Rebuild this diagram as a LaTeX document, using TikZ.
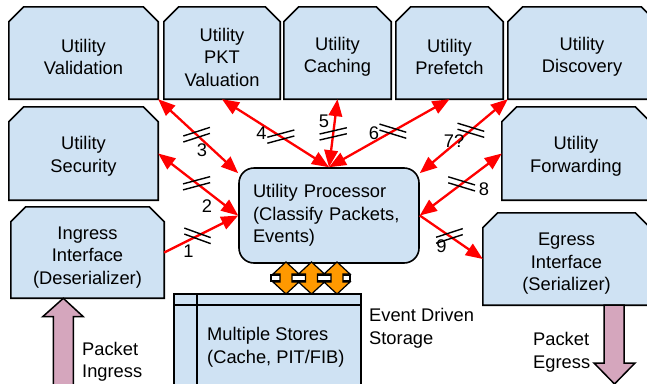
\documentclass[tikz,border=0pt]{standalone}
\usepackage{fontspec}
\setmainfont{Liberation Sans}
\usetikzlibrary{arrows.meta,calc}
\pgfdeclarelayer{background}
\pgfsetlayers{background,main}
\definecolor{boxblue}{HTML}{CFE2F3}
\definecolor{linkred}{HTML}{FF0000}
\definecolor{busorange}{HTML}{FF9900}
\definecolor{flowpink}{HTML}{D5A6BD}

\tikzset{
  area/.style 2 args={rectangle, inner sep=0pt, minimum width=#1, minimum height=#2},
  boxtext/.style={align=center, inner sep=0pt},
  plaintext/.style={align=left, inner sep=0pt, anchor=west},
  numtext/.style={inner sep=0pt},
  boxline/.style={draw=black, fill=boxblue, line width=1.6pt, line join=miter},
  redlink/.style={draw=linkred, line width=2.3pt},
  tickline/.style={draw=black, line width=1.4pt},
  flow/.style={draw=black, fill=flowpink, line width=1.5pt, line join=miter},
  bus/.style={draw=black, fill=busorange, line width=1.2pt, line join=miter},
  busbar/.style={draw=black, fill=white, line width=1.2pt},
  >={Triangle[length=17pt,width=13.5pt]}
}

% box with its two upper corners cut off
\newcommand\chambox[1]{%
  \filldraw[boxline] (#1.south west) -- ([yshift=-15pt]#1.north west)
    -- ([xshift=15pt]#1.north west) -- ([xshift=-15pt]#1.north east)
    -- ([yshift=-15pt]#1.north east) -- (#1.south east) -- cycle;}

% double stroke across a link
\newcommand\brk[2]{%
  \foreach \o in {-3,3}{%
    \draw[tickline] ($(#1)+(0,\o)$) ++(#2+180:14pt) -- ++(#2:28pt);}}

% up/down arrow between processor and stores
\newcommand\busarrow[1]{%
  \filldraw[bus] (#1,262) -- (#1+13,274) -- (#1+6,274) -- (#1+6,282)
    -- (#1+13,282) -- (#1,294) -- (#1-13,282) -- (#1-6,282)
    -- (#1-6,274) -- (#1-13,274) -- cycle;}

\begin{document}
\begin{tikzpicture}[x=1pt, y=-1pt, font=\fontsize{18.3}{22.5}\selectfont]
\useasboundingbox (0,0) rectangle (647,383);
\clip (0,0) rectangle (647,383);

% utility modules
\node[area={149pt}{92pt}] (val)  at (83.5,53)  {};
\node[area={116pt}{92pt}] (pkt)  at (222,53)   {};
\node[area={107pt}{92pt}] (cach) at (337.5,53) {};
\node[area={107pt}{92pt}] (pref) at (449.5,53) {};
\node[area={148pt}{92pt}] (disc) at (582,53)   {};
\node[area={149pt}{93pt}] (sec)  at (83.5,153.5) {};
\node[area={148pt}{93pt}] (fwd)  at (576,153.5)  {};
\node[area={153pt}{91pt}] (ing)  at (87.5,252.5) {};
\node[area={167pt}{92pt}] (egr)  at (566.5,259)  {};
\node[area={187pt}{106pt}] (store) at (267.5,347) {};

\node[boxtext] (valt)  at ([yshift=-4pt]val.center)  {Utility\\Validation};
\node[boxtext] (pktt)  at ([yshift=-4pt]pkt.center)  {Utility\\PKT\\Valuation};
\node[boxtext] (cacht) at ([yshift=-4pt]cach.center) {Utility\\Caching};
\node[boxtext] (preft) at ([yshift=-4pt]pref.center) {Utility\\Prefetch};
\node[boxtext] (disct) at ([yshift=-4pt]disc.center) {Utility\\Discovery};
\node[boxtext] (sect)  at ([yshift=-3pt]sec.center)  {Utility\\Security};
\node[boxtext] (fwdt)  at ([yshift=-3pt]fwd.center)  {Utility\\Forwarding};
\node[boxtext] (ingt)  at ([yshift=-5pt]ing.center)  {Ingress\\Interface\\(Deserializer)};
\node[boxtext] (egrt)  at ([yshift=-5pt]egr.center)  {Egress\\Interface\\(Serializer)};

\begin{pgfonlayer}{background}
  \foreach \b in {val,pkt,cach,pref,disc,sec,fwd,ing,egr}{\chambox{\b}}
  \filldraw[boxline] (store.north west) rectangle (store.south east);
  \draw[boxline, fill=none] ([yshift=-11pt]store.north west) -- ([yshift=-11pt]store.north east);
  \draw[boxline, fill=none] ([xshift=23pt]store.north west) -- ([xshift=23pt]store.south west);
\end{pgfonlayer}

\node[plaintext] (storet) at (207,347.5) {Multiple Stores\\(Cache, PIT/FIB)};

% central processor
\node[area={180pt}{95pt}, rounded corners=15pt, boxline, align=left, text width=152pt]
  (proc) at (329,215.5) {Utility Processor\\(Classify Packets,\\Events)};

% memory bus
\filldraw[busbar] (271,275) rectangle (350,281);
\foreach \c in {286,311.5,337}{\busarrow{\c}}

% packet flow in and out
\filldraw[flow] (63.3,298.3) -- (83.3,316.7) -- (73.3,316.7) -- (73.3,392)
  -- (53.3,392) -- (53.3,316.7) -- (42.7,316.7) -- cycle;
\filldraw[flow] (604,305) -- (604,363) -- (594,363) -- (614.5,384)
  -- (635,363) -- (624,363) -- (624,305) -- cycle;

% links to the processor
\draw[redlink,->]  (ing.east) -- coordinate[pos=.45] (t1) (proc.west);
\draw[redlink,<->] (sec.east) -- coordinate[pos=.48] (t2) (proc.west);
\draw[redlink,<->] (val.south east) -- coordinate[pos=.48] (t3) (proc.155);
\draw[redlink,<->] (pkt.south) -- coordinate[pos=.55] (t4) (proc.north);
\draw[redlink,<->] (cach.south) -- coordinate[pos=.51] (t5) (proc.north);
\draw[redlink,<->] (pref.south) -- coordinate[pos=.47] (t6) (proc.north);
\draw[redlink,<->] (disc.south west) -- coordinate[pos=.42] (t7) (proc.25);
\draw[redlink,<->] (fwd.west) -- coordinate[pos=.49] (t8) (proc.east);
\draw[redlink,->]  (proc.east) -- coordinate[pos=.47] (t9) (egr.west);

\brk{t1}{-20}
\brk{t2}{15}
\brk{t3}{18}
\brk{t4}{15}
\brk{t5}{13}
\brk{t6}{-17}
\brk{t7}{-17}
\brk{t8}{-17}
\brk{t9}{18}

\node[numtext] (n1) at (188.5,251) {1};
\node[numtext] (n2) at (207,206)   {2};
\node[numtext] (n3) at (202,150)   {3};
\node[numtext] (n4) at (261.5,133) {4};
\node[numtext] (n5) at (324,121.5) {5};
\node[numtext] (n6) at (374,133)   {6};
\node[numtext] (n7) at (454,141)   {7?};
\node[numtext] (n8) at (484,189.5) {8};
\node[numtext] (n9) at (441.5,246.5) {9};

\node[plaintext] (evt) at (369,328.5) {Event Driven\\Storage};
\node[plaintext] (pin) at (82,362)    {Packet\\Ingress};
\node[plaintext] (pout) at (533,352.5) {Packet\\Egress};
\end{tikzpicture}
\end{document}
